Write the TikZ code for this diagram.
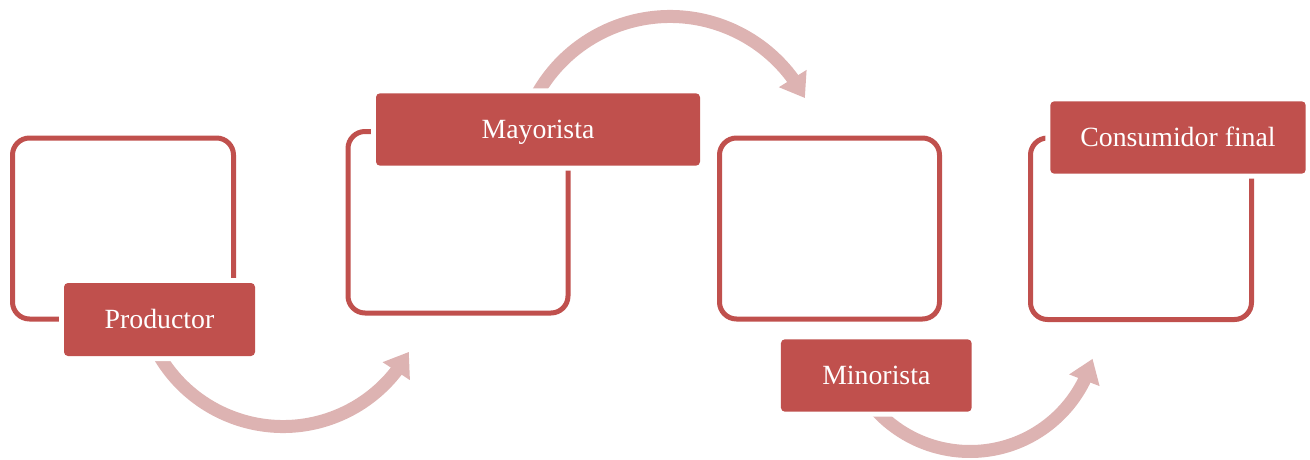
\documentclass[tikz,border=0pt]{standalone}
\usepackage{fontspec}
\setmainfont{Liberation Serif}
\usetikzlibrary{arrows.meta,bending}
\definecolor{boxred}{HTML}{C0504D}
\definecolor{arrowpink}{HTML}{DDB3B2}
\begin{document}
\begin{tikzpicture}[x=1pt,y=1pt,
  chainframe/.style={draw=boxred, line width=5pt, rounded corners=17pt, inner sep=0pt, outer sep=0pt},
  lbox/.style={fill=boxred, rounded corners=4pt, inner sep=0pt, outer sep=0pt,
    preaction={draw=white, line width=10pt},
    text=white, font=\fontsize{27.8}{33}\selectfont, text height=22pt, text depth=3.6pt, align=center},
  curvearrow/.style={draw=arrowpink, line width=13pt, -{Triangle[length=23pt,width=31pt,flex]}}]
\useasboundingbox (0,0) rectangle (1310,459);
% frames
\node[chainframe, minimum width=221pt, minimum height=181pt] (f1) at (123,230.5) {};
\node[chainframe, minimum width=220pt, minimum height=181.5pt] (f2) at (458,236.75) {};
\node[chainframe, minimum width=220pt, minimum height=181pt] (f3) at (829.5,230.5) {};
\node[chainframe, minimum width=221pt, minimum height=181.5pt] (f4) at (1141,230.25) {};
% arc centres
\coordinate (c1) at (283,176);
\coordinate (c2) at (670,290.1);
\coordinate (c3) at (970,134.9);
% arrows
\draw[curvearrow] ([shift={(205:143.5)}]c1) arc[start angle=205, end angle=331.3, radius=143.5];
\draw[curvearrow] ([shift={(155:152.4)}]c2) arc[start angle=155, end angle=27.7, radius=152.4];
\draw[curvearrow] ([shift={(220:127.4)}]c3) arc[start angle=220, end angle=344.2, radius=127.4];
% labels
\node[lbox, minimum width=191pt, minimum height=73pt] (b1) at (159.5,139.5) {Productor};
\node[lbox, minimum width=324pt, minimum height=72.4pt] (b2) at (538,329.5) {Mayorista};
\node[lbox, minimum width=190.7pt, minimum height=72.4pt] (b3) at (876.3,83.5) {Minorista};
\node[lbox, minimum width=255.4pt, minimum height=72.4pt] (b4) at (1178,321.5) {Consumidor final};
\end{tikzpicture}
\end{document}
